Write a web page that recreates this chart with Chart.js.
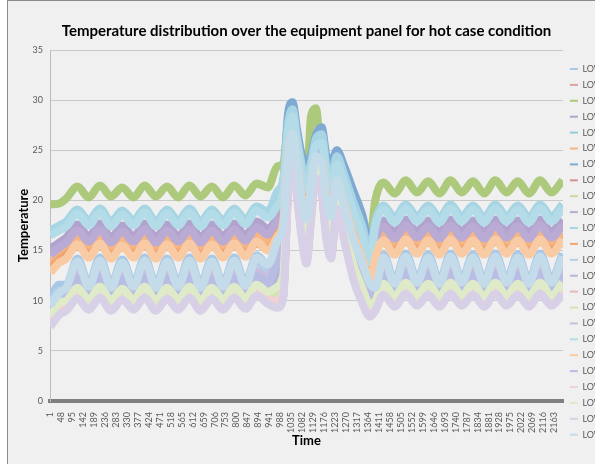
<!DOCTYPE html>
<html>
<head>
<meta charset="utf-8">
<script src="https://cdn.jsdelivr.net/npm/chart.js@4/dist/chart.umd.min.js"></script>
<style>
  html, body { margin: 0; padding: 0; background: #fff; overflow: hidden; }
  #frame {
    position: absolute; left: 7px; top: 0; width: 700px; height: 464px;
    border-left: 1px solid #8a8a8a; border-top: 1px solid #8a8a8a;
    background: #f0f0f0;
  }
  #plot { position: absolute; left: 0; top: 0; }
</style>
</head>
<body>
<div id="frame"><canvas id="plot" width="640" height="463"></canvas></div>
<script>
// Temperature distribution, hot case: 24 "LOW..." sensor series over time.
// Values at the turning points of each series.

// sample times (x) shared by all series
const times = [
  1, 40,
  70, 118, 166, 214, 262, 310, 358, 406, 454, 502, 550, 598, 646, 694, 742, 790, 838, 886, 934,
  975, 1000, 1020, 1040, 1060, 1080, 1100, 1120, 1140, 1165, 1185, 1205, 1230, 1260, 1300, 1340, 1372,
  1395, 1430, 1478, 1526, 1574, 1622, 1670, 1718, 1766, 1814, 1862, 1910, 1958, 2006, 2054, 2102, 2150, 2198
];

// category tick labels along the time axis
const timeLabels = [1, 48, 95, 142, 189, 236, 283, 330, 377, 424, 471, 518, 565, 612, 659, 706, 753,
  800, 847, 894, 941, 988, 1035, 1082, 1129, 1176, 1223, 1270, 1317, 1364, 1411, 1458, 1505, 1552,
  1599, 1646, 1693, 1740, 1787, 1834, 1881, 1928, 1975, 2022, 2069, 2116, 2163];

const yTicks = [0, 5, 10, 15, 20, 25, 30, 35];

const low01 = [10.2, 11.6,
  11.6, 14.2, 11.7, 14.3, 11.6, 14.1, 11.7, 14.3, 11.6, 14.2, 11.7, 14.3, 11.6, 14.2, 11.7, 14.3, 11.8, 14.5, 13.6,
  15.4, 17.0, 23.4, 26.0, 22.8, 19.4, 17.5, 20.6, 23.8, 23.2, 19.4, 17.8, 21.4, 19.0, 15.6, 13.1, 11.1,
  11.6, 14.6, 12.0, 14.7, 12.1, 14.6, 12.0, 14.7, 12.1, 14.6, 12.0, 14.7, 12.1, 14.6, 12.0, 14.7, 12.1, 14.7];
const low02 = [8.2, 9.6,
  10.0, 11.2, 10.1, 11.3, 10.0, 11.1, 10.1, 11.3, 10.0, 11.2, 10.1, 11.3, 10.0, 11.2, 10.1, 11.3, 10.2, 11.5, 10.8,
  11.0, 12.0, 21.5, 24.7, 21.3, 17.5, 15.1, 19.2, 23.0, 21.8, 17.5, 15.6, 20.2, 17.3, 13.5, 11.0, 9.4,
  10.0, 11.6, 10.4, 11.7, 10.5, 11.6, 10.4, 11.7, 10.5, 11.6, 10.4, 11.7, 10.5, 11.6, 10.4, 11.7, 10.5, 11.7];
const low03 = [19.6, 19.7,
  20.2, 21.4, 20.3, 21.5, 20.4, 21.3, 20.3, 21.5, 20.4, 21.4, 20.3, 21.5, 20.4, 21.4, 20.3, 21.5, 20.5, 21.7, 21.3,
  23.4, 23.7, 27.5, 28.8, 25.5, 22.5, 21.5, 28.5, 29.2, 23.5, 21.5, 23.5, 24.8, 22.5, 19.5, 17.0, 16.0,
  20.0, 21.8, 20.7, 22.0, 20.8, 21.9, 20.7, 22.0, 20.8, 21.9, 20.7, 22.0, 20.8, 21.9, 20.7, 22.0, 20.8, 22.0];
const low04 = [15.2, 15.8,
  16.3, 17.6, 16.4, 17.7, 16.3, 17.5, 16.4, 17.7, 16.3, 17.6, 16.4, 17.7, 16.3, 17.6, 16.4, 17.7, 16.5, 17.9, 17.2,
  18.3, 19.6, 25.7, 27.8, 24.7, 21.7, 20.2, 22.4, 25.1, 25.1, 21.7, 20.4, 23.1, 21.1, 18.0, 15.5, 13.1,
  16.4, 18.0, 16.8, 18.1, 16.9, 18.0, 16.8, 18.1, 16.9, 18.0, 16.8, 18.1, 16.9, 18.0, 16.8, 18.1, 16.9, 18.1];
const low05 = [16.8, 17.2,
  17.6, 18.9, 17.7, 19.0, 17.6, 18.8, 17.7, 19.0, 17.6, 18.9, 17.7, 19.0, 17.6, 18.9, 17.7, 19.0, 17.8, 19.2, 18.6,
  20.6, 21.8, 27.3, 28.9, 26.0, 23.3, 22.1, 23.6, 25.9, 26.4, 23.3, 22.2, 24.2, 22.5, 19.7, 17.2, 14.5,
  17.6, 19.3, 18.0, 19.4, 18.1, 19.3, 18.0, 19.4, 18.1, 19.3, 18.0, 19.4, 18.1, 19.3, 18.0, 19.4, 18.1, 19.4];
const low06 = [13.8, 14.5,
  15.0, 16.3, 15.1, 16.4, 15.0, 16.2, 15.1, 16.4, 15.0, 16.3, 15.1, 16.4, 15.0, 16.3, 15.1, 16.4, 15.2, 16.6, 15.9,
  17.3, 18.8, 24.9, 27.2, 24.1, 20.9, 19.2, 21.8, 24.7, 24.5, 20.9, 19.5, 22.5, 20.4, 17.2, 14.7, 12.4,
  15.1, 16.7, 15.4, 16.8, 15.5, 16.7, 15.4, 16.8, 15.5, 16.7, 15.4, 16.8, 15.5, 16.7, 15.4, 16.8, 15.5, 16.8];
const low07 = [16.6, 17.1,
  17.8, 19.0, 17.9, 19.1, 17.8, 18.9, 17.9, 19.1, 17.8, 19.0, 17.9, 19.1, 17.8, 19.0, 17.9, 19.1, 18.0, 19.3, 18.8,
  20.3, 21.5, 28.5, 29.8, 27.0, 24.5, 23.5, 24.5, 26.5, 27.3, 24.5, 23.5, 25.0, 23.5, 21.0, 18.5, 15.5,
  17.8, 19.4, 18.2, 19.5, 18.3, 19.4, 18.2, 19.5, 18.3, 19.4, 18.2, 19.5, 18.3, 19.4, 18.2, 19.5, 18.3, 19.5];
const low08 = [7.9, 9.2,
  9.6, 10.8, 9.7, 10.9, 9.6, 10.7, 9.7, 10.9, 9.6, 10.8, 9.7, 10.9, 9.6, 10.8, 9.7, 10.9, 9.8, 11.1, 10.3,
  9.9, 10.8, 20.7, 24.2, 20.7, 16.7, 14.2, 18.7, 22.7, 21.2, 16.7, 14.7, 19.7, 16.7, 12.7, 10.2, 8.8,
  9.6, 11.2, 10.0, 11.3, 10.1, 11.2, 10.0, 11.3, 10.1, 11.2, 10.0, 11.3, 10.1, 11.2, 10.0, 11.3, 10.1, 11.3];
const low09 = [8.8, 10.0,
  10.2, 11.5, 10.3, 11.6, 10.2, 11.4, 10.3, 11.6, 10.2, 11.5, 10.3, 11.6, 10.2, 11.5, 10.3, 11.6, 10.4, 11.8, 11.1,
  12.8, 14.2, 22.2, 25.3, 21.9, 18.3, 16.2, 19.8, 23.3, 22.4, 18.3, 16.6, 20.7, 18.1, 14.4, 11.9, 10.1,
  10.2, 11.9, 10.6, 12.0, 10.7, 11.9, 10.6, 12.0, 10.7, 11.9, 10.6, 12.0, 10.7, 11.9, 10.6, 12.0, 10.7, 12.0];
const low10 = [14.6, 15.3,
  15.8, 17.0, 15.9, 17.1, 15.8, 16.9, 15.9, 17.1, 15.8, 17.0, 15.9, 17.1, 15.8, 17.0, 15.9, 17.1, 16.0, 17.3, 16.6,
  18.0, 19.3, 25.4, 27.5, 24.4, 21.4, 19.9, 22.1, 24.8, 24.8, 21.4, 20.1, 22.8, 20.8, 17.7, 15.2, 12.8,
  15.9, 17.4, 16.2, 17.5, 16.3, 17.4, 16.2, 17.5, 16.3, 17.4, 16.2, 17.5, 16.3, 17.4, 16.2, 17.5, 16.3, 17.5];
const low11 = [17.0, 17.5,
  17.9, 19.1, 18.0, 19.2, 17.9, 19.0, 18.0, 19.2, 17.9, 19.1, 18.0, 19.2, 17.9, 19.1, 18.0, 19.2, 18.1, 19.4, 18.9,
  20.9, 22.1, 27.5, 29.1, 26.2, 23.5, 22.3, 23.8, 26.1, 26.6, 23.5, 22.4, 24.4, 22.7, 19.9, 17.4, 14.7,
  17.9, 19.5, 18.3, 19.6, 18.4, 19.5, 18.3, 19.6, 18.4, 19.5, 18.3, 19.6, 18.4, 19.5, 18.3, 19.6, 18.4, 19.6];
const low12 = [13.2, 14.1,
  14.6, 15.4, 14.7, 15.5, 14.6, 15.3, 14.7, 15.5, 14.6, 15.4, 14.7, 15.5, 14.6, 15.4, 14.7, 15.5, 14.8, 15.7, 15.2,
  16.6, 18.0, 24.5, 26.8, 23.7, 20.5, 18.8, 21.4, 24.3, 24.1, 20.5, 19.1, 22.1, 20.0, 16.8, 14.3, 12.0,
  14.7, 15.8, 15.0, 15.9, 15.1, 15.8, 15.0, 15.9, 15.1, 15.8, 15.0, 15.9, 15.1, 15.8, 15.0, 15.9, 15.1, 15.9];
const low13 = [9.6, 11.0,
  11.0, 13.6, 11.1, 13.7, 11.0, 13.5, 11.1, 13.7, 11.0, 13.6, 11.1, 13.7, 11.0, 13.6, 11.1, 13.7, 11.2, 13.9, 13.0,
  14.5, 16.0, 22.8, 25.8, 22.4, 18.8, 16.7, 20.3, 23.8, 22.9, 18.8, 17.1, 21.2, 18.6, 14.9, 12.4, 10.6,
  11.0, 14.0, 11.4, 14.1, 11.5, 14.0, 11.4, 14.1, 11.5, 14.0, 11.4, 14.1, 11.5, 14.0, 11.4, 14.1, 11.5, 14.1];
const low14 = [8.6, 10.0,
  10.3, 11.8, 10.4, 11.9, 10.3, 11.7, 10.4, 11.9, 10.3, 11.8, 10.4, 11.9, 10.3, 11.8, 10.4, 11.9, 10.5, 12.1, 11.4,
  13.0, 14.5, 22.1, 25.1, 21.7, 18.1, 16.0, 19.6, 23.1, 22.2, 18.1, 16.4, 20.5, 17.9, 14.2, 11.7, 9.9,
  10.3, 12.2, 10.7, 12.3, 10.8, 12.2, 10.7, 12.3, 10.8, 12.2, 10.7, 12.3, 10.8, 12.2, 10.7, 12.3, 10.8, 12.3];
const low15 = [7.6, 8.9,
  9.3, 10.4, 9.4, 10.5, 9.3, 10.3, 9.4, 10.5, 9.3, 10.4, 9.4, 10.5, 9.3, 10.4, 9.4, 10.5, 9.5, 10.7, 10.0,
  9.6, 10.5, 20.5, 24.0, 20.5, 16.5, 14.0, 18.5, 22.5, 21.0, 16.5, 14.5, 19.5, 16.5, 12.5, 10.0, 8.6,
  9.3, 10.8, 9.7, 10.9, 9.8, 10.8, 9.7, 10.9, 9.8, 10.8, 9.7, 10.9, 9.8, 10.8, 9.7, 10.9, 9.8, 10.9];
const low16 = [8.0, 9.4,
  9.8, 11.1, 9.9, 11.2, 9.8, 11.0, 9.9, 11.2, 9.8, 11.1, 9.9, 11.2, 9.8, 11.1, 9.9, 11.2, 10.0, 11.4, 10.7,
  10.8, 11.8, 21.3, 24.5, 21.1, 17.3, 14.9, 19.0, 22.8, 21.6, 17.3, 15.4, 20.0, 17.1, 13.3, 10.8, 9.2,
  9.8, 11.5, 10.2, 11.6, 10.3, 11.5, 10.2, 11.6, 10.3, 11.5, 10.2, 11.6, 10.3, 11.5, 10.2, 11.6, 10.3, 11.6];
const low17 = [9.4, 10.6,
  10.8, 12.6, 10.9, 12.7, 10.8, 12.5, 10.9, 12.7, 10.8, 12.6, 10.9, 12.7, 10.8, 12.6, 10.9, 12.7, 11.0, 12.9, 12.2,
  14.8, 16.2, 23.0, 25.9, 22.6, 19.1, 17.0, 20.5, 23.9, 23.1, 19.1, 17.4, 21.4, 18.8, 15.2, 12.7, 10.8,
  10.8, 13.0, 11.2, 13.1, 11.3, 13.0, 11.2, 13.1, 11.3, 13.0, 11.2, 13.1, 11.3, 13.0, 11.2, 13.1, 11.3, 13.1];
const low18 = [16.5, 17.0,
  17.4, 18.7, 17.5, 18.8, 17.4, 18.6, 17.5, 18.8, 17.4, 18.7, 17.5, 18.8, 17.4, 18.7, 17.5, 18.8, 17.6, 19.0, 18.3,
  19.5, 20.8, 26.5, 28.4, 25.4, 22.5, 21.1, 23.0, 25.5, 25.7, 22.5, 21.3, 23.6, 21.8, 18.9, 16.4, 13.8,
  17.4, 19.1, 17.8, 19.2, 17.9, 19.1, 17.8, 19.2, 17.9, 19.1, 17.8, 19.2, 17.9, 19.1, 17.8, 19.2, 17.9, 19.2];
const low19 = [12.8, 13.8,
  14.2, 15.6, 14.3, 15.7, 14.2, 15.5, 14.3, 15.7, 14.2, 15.6, 14.3, 15.7, 14.2, 15.6, 14.3, 15.7, 14.4, 15.9, 15.0,
  16.4, 17.8, 24.3, 26.6, 23.5, 20.3, 18.6, 21.2, 24.1, 23.9, 20.3, 18.9, 21.9, 19.8, 16.6, 14.1, 11.8,
  14.3, 16.0, 14.6, 16.1, 14.7, 16.0, 14.6, 16.1, 14.7, 16.0, 14.6, 16.1, 14.7, 16.0, 14.6, 16.1, 14.7, 16.1];
const low20 = [9.2, 10.4,
  10.6, 12.2, 10.7, 12.3, 10.6, 12.1, 10.7, 12.3, 10.6, 12.2, 10.7, 12.3, 10.6, 12.2, 10.7, 12.3, 10.8, 12.5, 11.8,
  13.8, 15.2, 22.3, 25.3, 21.9, 18.3, 16.2, 19.8, 23.3, 22.4, 18.3, 16.6, 20.7, 18.1, 14.4, 11.9, 10.1,
  10.6, 12.6, 11.0, 12.7, 11.1, 12.6, 11.0, 12.7, 11.1, 12.6, 11.0, 12.7, 11.1, 12.6, 11.0, 12.7, 11.1, 12.7];
const low21 = [7.7, 9.0,
  9.4, 10.6, 9.5, 10.7, 9.4, 10.5, 9.5, 10.7, 9.4, 10.6, 9.5, 10.7, 9.4, 10.6, 9.5, 10.7, 9.6, 10.9, 10.2,
  10.0, 11.0, 20.8, 24.3, 20.8, 16.8, 14.3, 18.8, 22.8, 21.3, 16.8, 14.8, 19.8, 16.8, 12.8, 10.3, 8.9,
  9.4, 11.0, 9.8, 11.1, 9.9, 11.0, 9.8, 11.1, 9.9, 11.0, 9.8, 11.1, 9.9, 11.0, 9.8, 11.1, 9.9, 11.1];
const low22 = [8.4, 9.8,
  10.0, 11.3, 10.1, 11.4, 10.0, 11.2, 10.1, 11.4, 10.0, 11.3, 10.1, 11.4, 10.0, 11.3, 10.1, 11.4, 10.2, 11.6, 10.9,
  11.4, 12.4, 21.7, 24.9, 21.5, 17.7, 15.3, 19.4, 23.2, 22.0, 17.7, 15.8, 20.4, 17.5, 13.7, 11.2, 9.6,
  10.0, 11.7, 10.4, 11.8, 10.5, 11.7, 10.4, 11.8, 10.5, 11.7, 10.4, 11.8, 10.5, 11.7, 10.4, 11.8, 10.5, 11.8];
const low23 = [7.4, 8.6,
  9.0, 10.2, 9.1, 10.3, 9.0, 10.1, 9.1, 10.3, 9.0, 10.2, 9.1, 10.3, 9.0, 10.2, 9.1, 10.3, 9.2, 10.5, 9.7,
  9.3, 10.2, 20.2, 23.7, 20.2, 16.2, 13.7, 18.2, 22.2, 20.7, 16.2, 14.2, 19.2, 16.2, 12.2, 9.7, 8.4,
  9.0, 10.6, 9.4, 10.7, 9.5, 10.6, 9.4, 10.7, 9.5, 10.6, 9.4, 10.7, 9.5, 10.6, 9.4, 10.7, 9.5, 10.7];
const low24 = [9.5, 10.8,
  11.3, 13.9, 11.4, 14.0, 11.3, 13.8, 11.4, 14.0, 11.3, 13.9, 11.4, 14.0, 11.3, 13.9, 11.4, 14.0, 11.5, 14.3, 13.6,
  16.0, 17.5, 24.0, 26.6, 23.4, 20.0, 18.1, 21.2, 24.4, 23.8, 20.0, 18.4, 22.0, 19.6, 16.2, 13.7, 11.7,
  11.3, 14.3, 11.7, 14.4, 11.8, 14.3, 11.7, 14.4, 11.8, 14.3, 11.7, 14.4, 11.8, 14.3, 11.7, 14.4, 11.8, 14.4];

const seriesValues = [low01, low02, low03, low04, low05, low06, low07, low08, low09, low10, low11, low12,
  low13, low14, low15, low16, low17, low18, low19, low20, low21, low22, low23, low24];

const seriesNames = seriesValues.map((v, i) => 'LOWER PANEL T' + String(i + 1).padStart(2, '0'));

// washed-out office palette, in legend order
const seriesColors = [
  '#a9c8e6', '#dca3a1', '#adc97c', '#b1a3cd', '#93cbdc', '#f6b584',
  '#7fa9d3', '#d49391', '#c6da9c', '#b9abd4', '#a7d5e3', '#f0a56d',
  '#b5cfe9', '#b3b7dc', '#e5b9b8', '#d3e3b2', '#c9bedd', '#b4dce8',
  '#f9cba5', '#b9bde3', '#efd2d1', '#dfeac8', '#d8d0e6', '#c4dcea'
];

const FONT = 'Lato, "Open Sans", sans-serif';

const datasets = seriesValues.map((vals, i) => ({
  label: seriesNames[i],
  data: vals.map((y, k) => ({ x: times[k], y: y })),
  borderColor: seriesColors[i],
  backgroundColor: seriesColors[i],
  borderWidth: 8,
  pointRadius: 0,
  cubicInterpolationMode: 'monotone',
  order: seriesValues.length - i // later series painted on top, like the source
}));

new Chart(document.getElementById('plot'), {
  type: 'line',
  data: { datasets: datasets },
  options: {
    responsive: false,
    animation: false,
    devicePixelRatio: 1,
    layout: { padding: 0 },
    plugins: {
      tooltip: { enabled: false },
      title: {
        display: true,
        fullSize: false,
        text: 'Temperature distribution over the equipment panel for hot case condition',
        color: '#000',
        font: { family: FONT, size: 15, weight: 'bold' },
        padding: { top: 21, bottom: 10 }
      },
      legend: {
        position: 'right',
        align: 'start',
        maxWidth: 85,
        title: { display: true, text: ' ', font: { size: 10 }, padding: { top: 44.6, bottom: 0 } },
        labels: {
          usePointStyle: true,
          pointStyle: 'line',
          pointStyleWidth: 8,
          padding: 6.9,
          color: '#595959',
          font: { family: FONT, size: 9 },
          sort: (a, b) => a.datasetIndex - b.datasetIndex,
          generateLabels: function(chart) {
            const items = Chart.defaults.plugins.legend.labels.generateLabels(chart);
            items.forEach(it => { it.lineWidth = 2; });
            return items;
          }
        }
      }
    },
    scales: {
      x: {
        type: 'linear',
        min: 0,
        max: 2200,
        afterBuildTicks: s => { s.ticks = timeLabels.map(v => ({ value: v })); },
        afterFit: s => { s.height = 63; },
        grid: { display: false },
        border: { display: true, color: '#7f7f7f', width: 4 },
        ticks: {
          autoSkip: false,
          minRotation: 90,
          maxRotation: 90,
          padding: 3,
          color: '#595959',
          font: { family: FONT, size: 9 },
          callback: v => String(v)
        },
        title: {
          display: true,
          text: 'Time',
          color: '#000',
          font: { family: FONT, size: 13, weight: 'bold' },
          padding: { top: 0, bottom: 15 }
        }
      },
      y: {
        min: 0,
        max: 35,
        afterBuildTicks: s => { s.ticks = yTicks.map(v => ({ value: v })); },
        afterFit: s => { s.width = 42; },
        grid: { color: '#c9c9c9', drawTicks: false },
        border: { color: '#bdbdbd' },
        ticks: {
          padding: 7,
          color: '#595959',
          font: { family: FONT, size: 9 }
        },
        title: {
          display: true,
          text: 'Temperature',
          color: '#000',
          font: { family: FONT, size: 13, weight: 'bold' },
          padding: { top: 8, bottom: 0 }
        }
      }
    }
  }
});
</script>
</body>
</html>
